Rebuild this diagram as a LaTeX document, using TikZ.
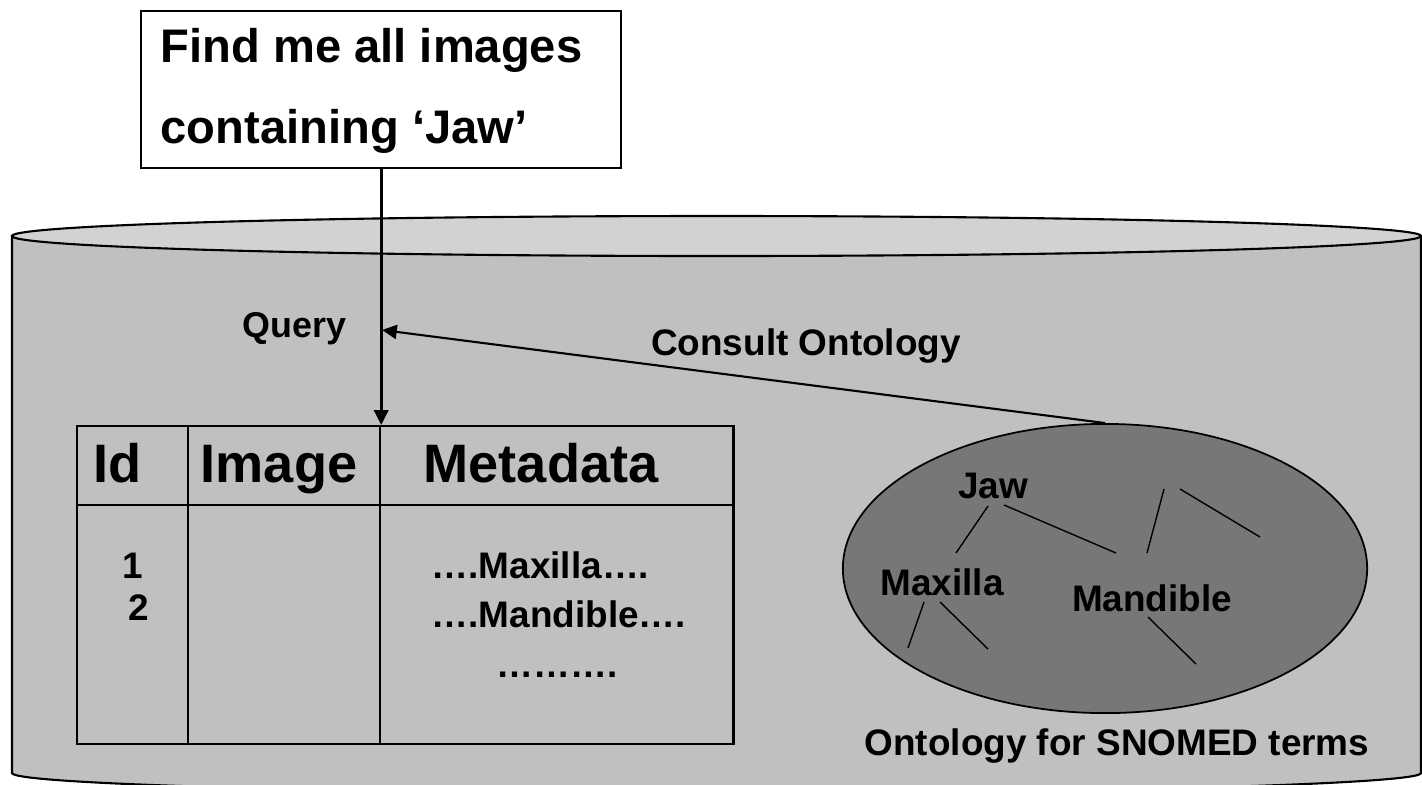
\documentclass[tikz,border=0pt]{standalone}
\usepackage{fontspec}
\setmainfont{Liberation Sans}
\usetikzlibrary{arrows.meta,shapes.geometric}
\definecolor{dbSide}{HTML}{C0C0C0}
\definecolor{dbTop}{HTML}{D2D2D2}
\definecolor{ontoGray}{HTML}{777777}
\tikzset{
  txt/.style={font=\bfseries\fontsize{#1}{#1}\selectfont, inner sep=0pt, anchor=base},
  txt/.default=10.5,
  qbox/.style={draw, fill=white, line width=0.6pt, inner sep=0pt},
  tbox/.style={draw, line width=0.6pt, inner sep=0pt},
  arr/.style={-{Triangle[length=4.2pt, width=4pt]}, line width=0.6pt},
  branch/.style={line width=0.4pt},
}
\begin{document}
\begin{tikzpicture}[x=0.01cm, y=-0.01cm]
  \useasboundingbox (0,0) rectangle (1422,784);
  % database cylinder
  \filldraw[fill=dbSide, line width=0.6pt] (12,236) -- (12,773)
    arc[start angle=180, end angle=0, x radius=704.5, y radius=20] -- (1421,236) -- cycle;
  \filldraw[fill=dbTop, line width=0.6pt] (716.5,236) ellipse[x radius=704.5, y radius=20];

  \node[qbox, anchor=north west, minimum width=4.8cm, minimum height=1.57cm] (query) at (140,10) {};
  \node[txt=13.4, anchor=base west] (ask1) at (160,62) {Find me all images};
  \node[txt=13.4, anchor=base west] (ask2) at (160,143) {containing ‘Jaw’};

  % image table
  \node[tbox, anchor=north west, minimum width=6.56cm, minimum height=3.18cm] (tbl) at (76,425) {};
  \draw[line width=0.6pt] (188,425) -- (188,743) (380,425) -- (380,743) (76,505) -- (732,505);
  \node[txt=15.4] (hid) at (118,482) {Id};
  \node[txt=15.4] (himg) at (279,482) {Image};
  \node[txt=15.4] (hmeta) at (541,482) {Metadata};
  \node[txt] (row1) at (133,578) {1};
  \node[txt] (row2) at (139,620) {2};
  \node[txt, anchor=base west] (meta1) at (431,578) {….Maxilla….};
  \node[txt, anchor=base west] (meta2) at (431,627) {….Mandible….};
  \node[txt, anchor=base west] (meta3) at (496,677) {……….};

  % ontology
  \node[ellipse, draw, fill=ontoGray, line width=0.5pt, inner sep=0pt,
    minimum width=5.24cm, minimum height=2.89cm] (onto) at (1105,568.5) {};
  \node[txt] (jaw) at (993,498) {Jaw};
  \node[txt] (maxilla) at (942,595) {Maxilla};
  \node[txt] (mandible) at (1152,611) {Mandible};
  \draw[branch] (988,506) -- (956,553);
  \draw[branch] (1004,505) -- (1116,553);
  \draw[branch] (1164,489) -- (1147,553);
  \draw[branch] (1180,489) -- (1260,537);
  \draw[branch] (924,602) -- (908,648);
  \draw[branch] (940,602) -- (988,649);
  \draw[branch] (1148,617) -- (1196,664);
  \node[txt] (snomed) at (1117,755) {Ontology for SNOMED terms};

  % query flow
  \coordinate (qhit) at (382,330);
  \draw[arr, line width=0.85pt] (query.south) -- (query.south |- tbl.north);
  \draw[arr] (onto.north) -- (qhit);
  \node[txt=10.2] (qlabel) at (294.5,337) {Query};
  \node[txt] (consult) at (806,355) {Consult Ontology};
\end{tikzpicture}
\end{document}
